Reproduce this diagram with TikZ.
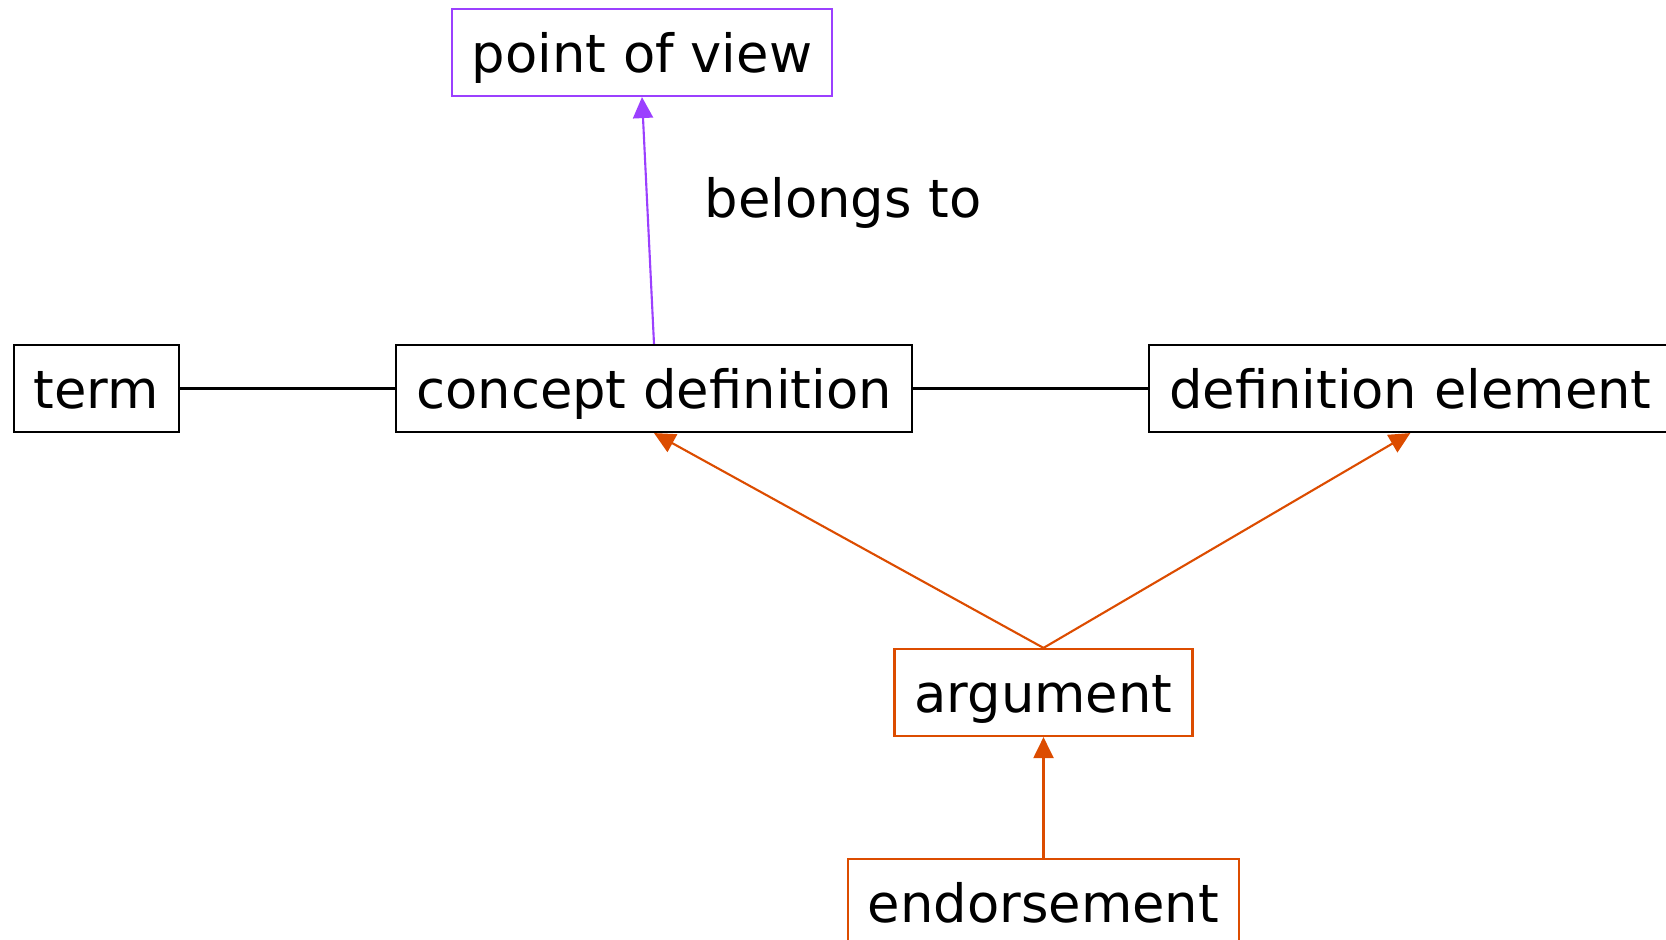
\documentclass[tikz,border=0pt]{standalone}
\usepackage{fontspec}
\setmainfont{DejaVu Sans}
\usetikzlibrary{arrows.meta}
\definecolor{viewpurple}{HTML}{9B40FF}
\definecolor{argorange}{HTML}{DC4C00}

\begin{document}
\begin{tikzpicture}[x=0.01cm, y=-0.01cm,
    font=\fontsize{15}{18}\selectfont,
    box/.style={draw, line width=0.6pt, minimum height=0.87cm, inner xsep=0.2cm,
        text height=0.5cm, text depth=0.11cm},
    tip/.style={-{Triangle[length=0.21cm,width=0.2cm]}}]
    \useasboundingbox (0,0) rectangle (1666,940);

    \node[box, draw=viewpurple] (pov) at (642, 52.5) {point of view};
    \node[] (belongs) at (843, 203) {belongs to};
    \node[box] (term) at (96.5, 388.5) {term};
    \node[box] (cd) at (654, 388.5) {concept definition};
    \node[box, anchor=west] (de) at (1148, 388.5) {definition element};
    \node[box, draw=argorange] (arg) at (1043.5, 692.5) {argument};
    \node[box, draw=argorange, anchor=north] (endo) at (1043.5, 858) {endorsement};

    \draw[line width=0.6pt]
    (term) -- (cd)
    (cd) -- (de);
    \draw[line width=0.6pt, viewpurple, tip] (cd.north) -- (pov.south);
    \draw[line width=0.6pt, argorange, tip] (arg.north) -- (cd.south);
    \draw[line width=0.6pt, argorange, tip] (arg.north) -- (de.south);
    \draw[line width=0.6pt, argorange, tip] (endo) -- (arg);
\end{tikzpicture}
\end{document}
